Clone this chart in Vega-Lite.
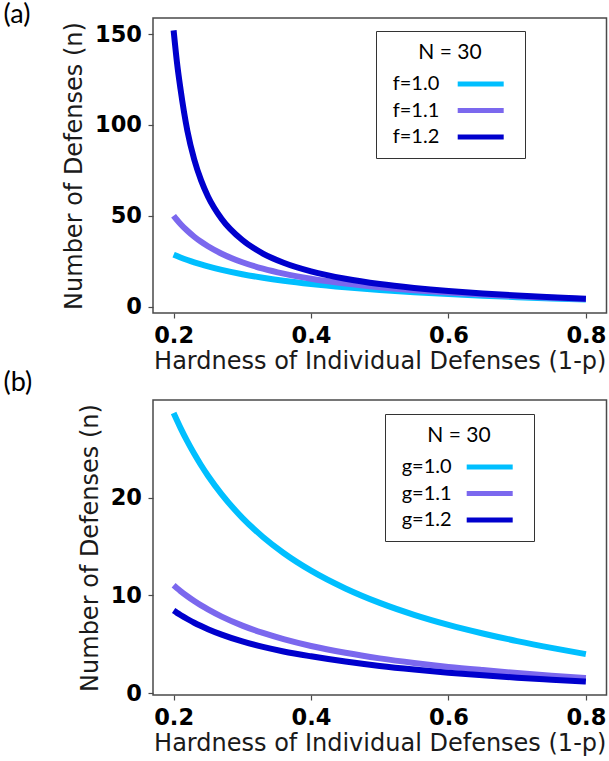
{
  "$schema": "https://vega.github.io/schema/vega-lite/v6.json",
  "background": "white",
  "padding": {"left": 2, "top": 0, "right": 2, "bottom": 2},
  "bounds": "flush",
  "spacing": 87,
  "resolve": {"scale": {"x": "independent", "y": "independent", "color": "independent"}},
  "config": {
    "view": {"stroke": "#4a4a4a", "strokeWidth": 1.5},
    "axis": {
      "grid": false, "domain": false,
      "tickColor": "#4a4a4a", "tickSize": 5, "tickWidth": 1.2,
      "labelFont": "DejaVu Sans", "labelFontWeight": "bold", "labelFontSize": 22.5, "labelColor": "black",
      "titleFont": "DejaVu Sans", "titleFontWeight": "normal", "titleFontSize": 24, "titleColor": "#1a1a1a"
    },
    "axisX": {"labelPadding": 6, "titlePadding": 3},
    "axisY": {"labelPadding": 6.5, "titlePadding": 8},
    "legend": {
      "orient": "none", "direction": "vertical",
      "symbolType": "M-4,0H4", "symbolSize": 132.25, "symbolStrokeWidth": 5,
      "strokeColor": "#333333", "fillColor": "white", "padding": 11,
      "labelFont": "Lato", "labelFontSize": 20, "labelColor": "black",
      "titleFont": "Lato", "titleFontSize": 21, "titleFontWeight": "normal", "titleColor": "black",
      "titleAnchor": "middle", "titleAlign": "center", "titlePadding": 11,
      "rowPadding": 6.5, "labelOffset": -98, "symbolOffset": 83.7
    },
    "title": {"font": "Lato", "fontSize": 27, "fontWeight": "normal", "color": "black", "anchor": "start", "frame": "group", "baseline": "middle", "offset": 0}
  },
  "datasets": {
    "a": [
      {"h":0.2,"n":28.68,"s":"f=1.0"},{"h":0.205,"n":27.90,"s":"f=1.0"},{"h":0.21,"n":27.15,"s":"f=1.0"},{"h":0.22,"n":25.76,"s":"f=1.0"},{"h":0.23,"n":24.49,"s":"f=1.0"},{"h":0.24,"n":23.32,"s":"f=1.0"},{"h":0.25,"n":22.25,"s":"f=1.0"},{"h":0.27,"n":20.34,"s":"f=1.0"},{"h":0.3,"n":17.94,"s":"f=1.0"},{"h":0.33,"n":15.98,"s":"f=1.0"},{"h":0.36,"n":14.34,"s":"f=1.0"},{"h":0.4,"n":12.53,"s":"f=1.0"},{"h":0.45,"n":10.71,"s":"f=1.0"},{"h":0.5,"n":9.23,"s":"f=1.0"},{"h":0.55,"n":8.01,"s":"f=1.0"},{"h":0.6,"n":6.98,"s":"f=1.0"},{"h":0.65,"n":6.10,"s":"f=1.0"},{"h":0.7,"n":5.32,"s":"f=1.0"},{"h":0.75,"n":4.62,"s":"f=1.0"},{"h":0.8,"n":3.98,"s":"f=1.0"},
      {"h":0.2,"n":50.07,"s":"f=1.1"},{"h":0.205,"n":47.73,"s":"f=1.1"},{"h":0.21,"n":45.58,"s":"f=1.1"},{"h":0.22,"n":41.79,"s":"f=1.1"},{"h":0.23,"n":38.54,"s":"f=1.1"},{"h":0.24,"n":35.73,"s":"f=1.1"},{"h":0.25,"n":33.27,"s":"f=1.1"},{"h":0.27,"n":29.17,"s":"f=1.1"},{"h":0.3,"n":24.49,"s":"f=1.1"},{"h":0.33,"n":20.97,"s":"f=1.1"},{"h":0.36,"n":18.23,"s":"f=1.1"},{"h":0.4,"n":15.40,"s":"f=1.1"},{"h":0.45,"n":12.74,"s":"f=1.1"},{"h":0.5,"n":10.71,"s":"f=1.1"},{"h":0.55,"n":9.10,"s":"f=1.1"},{"h":0.6,"n":7.80,"s":"f=1.1"},{"h":0.65,"n":6.71,"s":"f=1.1"},{"h":0.7,"n":5.77,"s":"f=1.1"},{"h":0.75,"n":4.96,"s":"f=1.1"},{"h":0.8,"n":4.23,"s":"f=1.1"},
      {"h":0.2,"n":152,"s":"f=1.2"},{"h":0.205,"n":134,"s":"f=1.2"},{"h":0.21,"n":119.8,"s":"f=1.2"},{"h":0.22,"n":96.8,"s":"f=1.2"},{"h":0.23,"n":81.0,"s":"f=1.2"},{"h":0.24,"n":69.5,"s":"f=1.2"},{"h":0.25,"n":60.7,"s":"f=1.2"},{"h":0.27,"n":48.3,"s":"f=1.2"},{"h":0.3,"n":36.7,"s":"f=1.2"},{"h":0.33,"n":29.3,"s":"f=1.2"},{"h":0.36,"n":24.25,"s":"f=1.2"},{"h":0.4,"n":19.5,"s":"f=1.2"},{"h":0.45,"n":15.4,"s":"f=1.2"},{"h":0.5,"n":12.5,"s":"f=1.2"},{"h":0.55,"n":10.4,"s":"f=1.2"},{"h":0.6,"n":8.72,"s":"f=1.2"},{"h":0.65,"n":7.38,"s":"f=1.2"},{"h":0.7,"n":6.26,"s":"f=1.2"},{"h":0.75,"n":5.32,"s":"f=1.2"},{"h":0.8,"n":4.48,"s":"f=1.2"}
    ],
    "b": [
      {"h":0.2,"n":28.68,"s":"g=1.0"},{"h":0.205,"n":27.90,"s":"g=1.0"},{"h":0.21,"n":27.15,"s":"g=1.0"},{"h":0.22,"n":25.76,"s":"g=1.0"},{"h":0.23,"n":24.49,"s":"g=1.0"},{"h":0.24,"n":23.32,"s":"g=1.0"},{"h":0.25,"n":22.25,"s":"g=1.0"},{"h":0.27,"n":20.34,"s":"g=1.0"},{"h":0.3,"n":17.94,"s":"g=1.0"},{"h":0.33,"n":15.98,"s":"g=1.0"},{"h":0.36,"n":14.34,"s":"g=1.0"},{"h":0.4,"n":12.53,"s":"g=1.0"},{"h":0.45,"n":10.71,"s":"g=1.0"},{"h":0.5,"n":9.23,"s":"g=1.0"},{"h":0.55,"n":8.01,"s":"g=1.0"},{"h":0.6,"n":6.98,"s":"g=1.0"},{"h":0.65,"n":6.10,"s":"g=1.0"},{"h":0.7,"n":5.32,"s":"g=1.0"},{"h":0.75,"n":4.62,"s":"g=1.0"},{"h":0.8,"n":3.98,"s":"g=1.0"},
      {"h":0.2,"n":11.03,"s":"g=1.1"},{"h":0.205,"n":10.73,"s":"g=1.1"},{"h":0.21,"n":10.44,"s":"g=1.1"},{"h":0.22,"n":9.91,"s":"g=1.1"},{"h":0.23,"n":9.42,"s":"g=1.1"},{"h":0.24,"n":8.97,"s":"g=1.1"},{"h":0.25,"n":8.56,"s":"g=1.1"},{"h":0.27,"n":7.82,"s":"g=1.1"},{"h":0.3,"n":6.90,"s":"g=1.1"},{"h":0.33,"n":6.15,"s":"g=1.1"},{"h":0.36,"n":5.52,"s":"g=1.1"},{"h":0.4,"n":4.82,"s":"g=1.1"},{"h":0.45,"n":4.12,"s":"g=1.1"},{"h":0.5,"n":3.55,"s":"g=1.1"},{"h":0.55,"n":3.08,"s":"g=1.1"},{"h":0.6,"n":2.68,"s":"g=1.1"},{"h":0.65,"n":2.35,"s":"g=1.1"},{"h":0.7,"n":2.05,"s":"g=1.1"},{"h":0.75,"n":1.78,"s":"g=1.1"},{"h":0.8,"n":1.53,"s":"g=1.1"},
      {"h":0.2,"n":8.44,"s":"g=1.2"},{"h":0.205,"n":8.21,"s":"g=1.2"},{"h":0.21,"n":7.99,"s":"g=1.2"},{"h":0.22,"n":7.58,"s":"g=1.2"},{"h":0.23,"n":7.20,"s":"g=1.2"},{"h":0.24,"n":6.86,"s":"g=1.2"},{"h":0.25,"n":6.54,"s":"g=1.2"},{"h":0.27,"n":5.98,"s":"g=1.2"},{"h":0.3,"n":5.28,"s":"g=1.2"},{"h":0.33,"n":4.72,"s":"g=1.2"},{"h":0.36,"n":4.26,"s":"g=1.2"},{"h":0.4,"n":3.76,"s":"g=1.2"},{"h":0.45,"n":3.22,"s":"g=1.2"},{"h":0.5,"n":2.77,"s":"g=1.2"},{"h":0.55,"n":2.40,"s":"g=1.2"},{"h":0.6,"n":2.08,"s":"g=1.2"},{"h":0.65,"n":1.81,"s":"g=1.2"},{"h":0.7,"n":1.57,"s":"g=1.2"},{"h":0.75,"n":1.37,"s":"g=1.2"},{"h":0.8,"n":1.18,"s":"g=1.2"}
    ]
  },
  "vconcat": [
    {
      "title": {"text": "(a)", "dx": -149.5, "dy": 15},
      "width": 453.5, "height": 295,
      "data": {"name": "a"},
      "mark": {"type": "line", "strokeWidth": 6, "interpolate": "monotone", "clip": true},
      "encoding": {
        "x": {"field": "h", "type": "quantitative", "scale": {"domain": [0.17, 0.83], "nice": false, "zero": false},
              "axis": {"values": [0.2, 0.4, 0.6, 0.8], "format": ".1f", "title": "Hardness of Individual Defenses (1-p)"}},
        "y": {"field": "n", "type": "quantitative", "scale": {"domain": [-3.4, 158.8], "nice": false, "zero": false},
              "axis": {"values": [0, 50, 100, 150], "title": "Number of Defenses (n)"}},
        "color": {"field": "s", "type": "nominal",
                  "scale": {"domain": ["f=1.0", "f=1.1", "f=1.2"], "range": ["#00BFFF", "#7B68EE", "#0000CD"]},
                  "legend": {"title": "N = 30", "legendX": 223, "legendY": 13}}
      }
    },
    {
      "title": {"text": "(b)", "dx": -149.5, "dy": 1},
      "width": 453.5, "height": 295,
      "data": {"name": "b"},
      "mark": {"type": "line", "strokeWidth": 6, "interpolate": "monotone", "clip": true},
      "encoding": {
        "x": {"field": "h", "type": "quantitative", "scale": {"domain": [0.17, 0.83], "nice": false, "zero": false},
              "axis": {"values": [0.2, 0.4, 0.6, 0.8], "format": ".1f", "title": "Hardness of Individual Defenses (1-p)"}},
        "y": {"field": "n", "type": "quantitative", "scale": {"domain": [-0.2, 30.0], "nice": false, "zero": false},
              "axis": {"values": [0, 10, 20], "title": "Number of Defenses (n)"}},
        "color": {"field": "s", "type": "nominal",
                  "scale": {"domain": ["g=1.0", "g=1.1", "g=1.2"], "range": ["#00BFFF", "#7B68EE", "#0000CD"]},
                  "legend": {"title": "N = 30", "legendX": 232, "legendY": 14}}
      }
    }
  ]
}
